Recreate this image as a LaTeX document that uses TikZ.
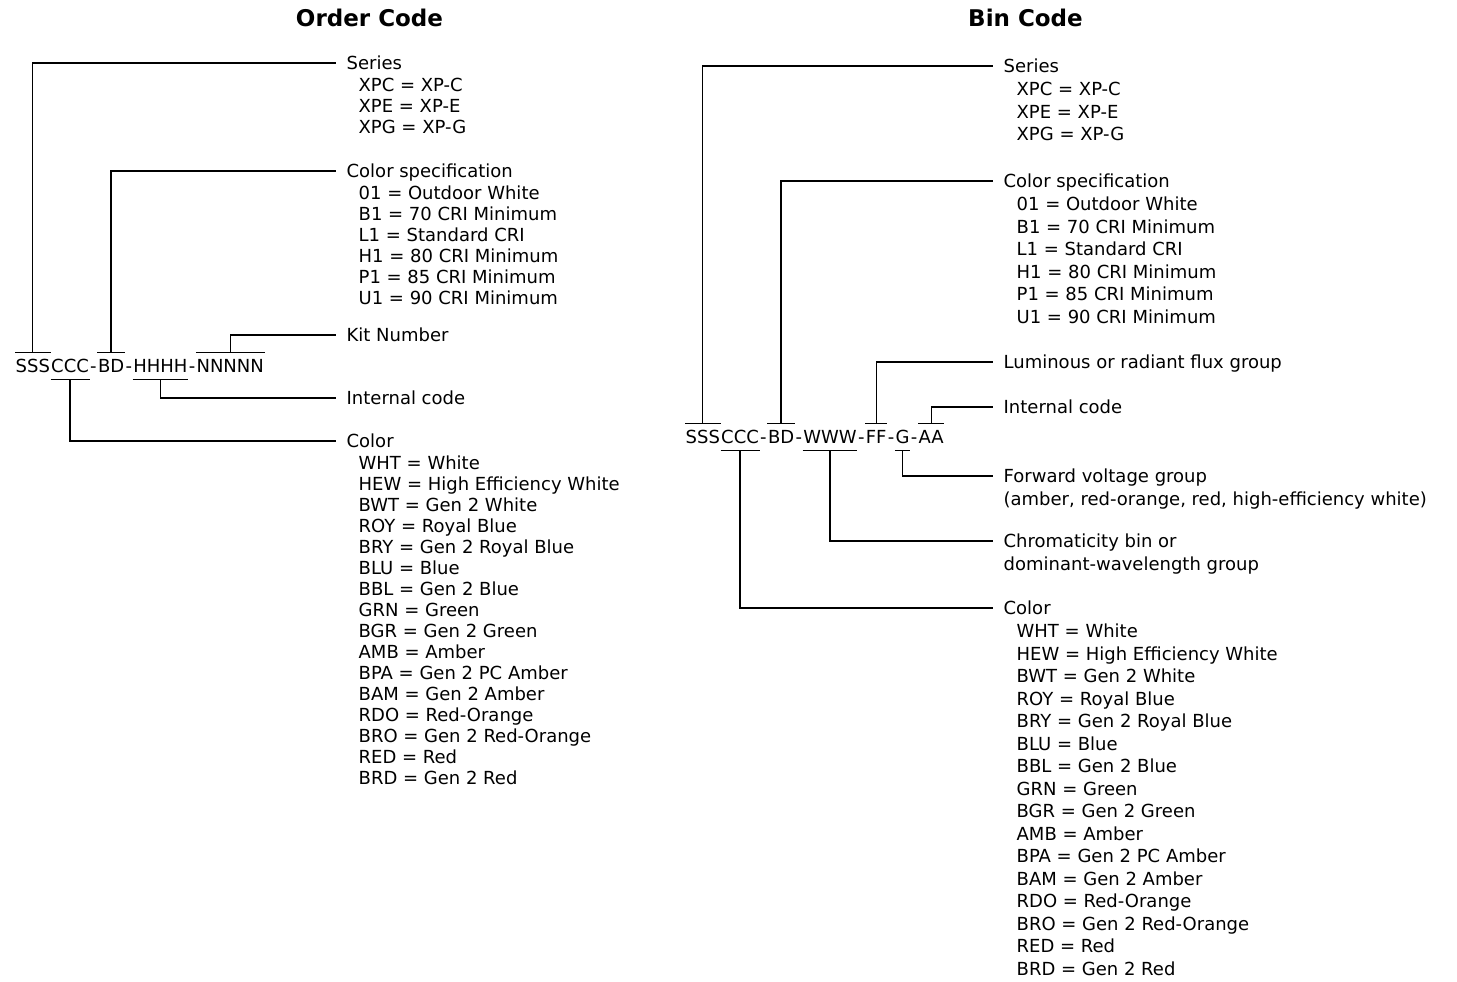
\documentclass[tikz,border=0pt]{standalone}
\usepackage{fontspec}
\setmainfont{DejaVu Sans}
\usetikzlibrary{positioning}
\tikzset{
  ttl/.style={font=\fontsize{23}{28}\selectfont\bfseries},
  seg/.style={inner xsep=0pt,inner ysep=6.2pt,text height=13pt,text depth=0pt,font=\fontsize{18}{21}\selectfont},
  lbl/.style={anchor=west,inner xsep=10pt,inner ysep=0pt,text height=13pt,text depth=0pt,font=\fontsize{18}{21}\selectfont},
  lstA/.style={anchor=north west,align=left,inner sep=0pt,font=\fontsize{18}{21}\selectfont},
  lstB/.style={anchor=north west,align=left,inner sep=0pt,font=\fontsize{18}{22.5}\selectfont},
}
\begin{document}
\begin{tikzpicture}[x=1pt,y=-1pt,line width=1.3pt,line cap=butt]
\useasboundingbox (0,0) rectangle (1457,982);

% ---------- Order Code ----------
\node[ttl] (oT) at (369.5,17.5) {Order Code};

\node[seg,anchor=west] (oS) at (15,366) {SSS};
\node[seg,right=0pt of oS] (oC) {CCC};
\node[seg,right=0pt of oC] (od1) {-};
\node[seg,right=0pt of od1] (oB) {BD};
\node[seg,right=0pt of oB] (od2) {-};
\node[seg,right=0pt of od2] (oH) {HHHH};
\node[seg,right=0pt of oH] (od3) {-};
\node[seg,right=0pt of od3] (oN) {NNNNN};

\node[lbl] (oSer) at (336,63) {Series};
\node[lstA] (oSerL) at ([xshift=22pt,yshift=-6.3pt]oSer.base west)
  {\strut XPC = XP-C\\XPE = XP-E\\XPG = XP-G};
\node[lbl] (oSpec) at (336,171) {Color specification};
\node[lstA] (oSpecL) at ([xshift=22pt,yshift=-6.3pt]oSpec.base west)
  {\strut 01 = Outdoor White\\B1 = 70 CRI Minimum\\L1 = Standard CRI\\H1 = 80 CRI Minimum\\P1 = 85 CRI Minimum\\U1 = 90 CRI Minimum};
\node[lbl] (oKit) at (336,335) {Kit Number};
\node[lbl] (oInt) at (336,398) {Internal code};
\node[lbl] (oCol) at (336,441) {Color};
\node[lstA] (oColL) at ([xshift=22pt,yshift=-6.3pt]oCol.base west)
  {\strut WHT = White\\HEW = High Efficiency White\\BWT = Gen 2 White\\ROY = Royal Blue\\BRY = Gen 2 Royal Blue\\BLU = Blue\\BBL = Gen 2 Blue\\GRN = Green\\BGR = Gen 2 Green\\AMB = Amber\\BPA = Gen 2 PC Amber\\BAM = Gen 2 Amber\\RDO = Red-Orange\\BRO = Gen 2 Red-Orange\\RED = Red\\BRD = Gen 2 Red};

\foreach \s in {oS,oB,oN} \draw (\s.north west) -- (\s.north east);
\foreach \s in {oC,oH} \draw (\s.south west) -- (\s.south east);
\draw (oS.north) |- (oSer.west);
\draw (oB.north) |- (oSpec.west);
\draw (oN.north) |- (oKit.west);
\draw (oH.south) |- (oInt.west);
\draw (oC.south) |- (oCol.west);

% ---------- Bin Code ----------
\node[ttl] (bT) at (1025.5,17.5) {Bin Code};

\node[seg,anchor=west] (bS) at (685,437) {SSS};
\node[seg,right=0pt of bS] (bC) {CCC};
\node[seg,right=0pt of bC] (bd1) {-};
\node[seg,right=0pt of bd1] (bB) {BD};
\node[seg,right=0pt of bB] (bd2) {-};
\node[seg,right=0pt of bd2] (bW) {WWW};
\node[seg,right=0pt of bW] (bd3) {-};
\node[seg,right=0pt of bd3] (bF) {FF};
\node[seg,right=0pt of bF] (bd4) {-};
\node[seg,right=0pt of bd4] (bG) {G};
\node[seg,right=0pt of bG] (bd5) {-};
\node[seg,right=0pt of bd5] (bA) {AA};

\node[lbl] (bSer) at (993,66) {Series};
\node[lstB] (bSerL) at ([xshift=23pt,yshift=-6.75pt]bSer.base west)
  {\strut XPC = XP-C\\XPE = XP-E\\XPG = XP-G};
\node[lbl] (bSpec) at (993,181) {Color specification};
\node[lstB] (bSpecL) at ([xshift=23pt,yshift=-6.75pt]bSpec.base west)
  {\strut 01 = Outdoor White\\B1 = 70 CRI Minimum\\L1 = Standard CRI\\H1 = 80 CRI Minimum\\P1 = 85 CRI Minimum\\U1 = 90 CRI Minimum};
\node[lbl] (bLum) at (993,362) {Luminous or radiant flux group};
\node[lbl] (bInt) at (993,407) {Internal code};
\node[lbl] (bVf) at (993,476) {Forward voltage group};
\node[lstB] (bVfL) at ([xshift=10pt,yshift=-6.75pt]bVf.base west)
  {\strut (amber, red-orange, red, high-efficiency white)};
\node[lbl] (bChr) at (993,541) {Chromaticity bin or};
\node[lstB] (bChrL) at ([xshift=10pt,yshift=-6.75pt]bChr.base west)
  {\strut dominant-wavelength group};
\node[lbl] (bCol) at (993,608) {Color};
\node[lstB] (bColL) at ([xshift=23pt,yshift=-6.75pt]bCol.base west)
  {\strut WHT = White\\HEW = High Efficiency White\\BWT = Gen 2 White\\ROY = Royal Blue\\BRY = Gen 2 Royal Blue\\BLU = Blue\\BBL = Gen 2 Blue\\GRN = Green\\BGR = Gen 2 Green\\AMB = Amber\\BPA = Gen 2 PC Amber\\BAM = Gen 2 Amber\\RDO = Red-Orange\\BRO = Gen 2 Red-Orange\\RED = Red\\BRD = Gen 2 Red};

\foreach \s in {bS,bB,bF,bA} \draw (\s.north west) -- (\s.north east);
\foreach \s in {bC,bW,bG} \draw (\s.south west) -- (\s.south east);
\draw (bS.north) |- (bSer.west);
\draw (bB.north) |- (bSpec.west);
\draw (bF.north) |- (bLum.west);
\draw (bA.north) |- (bInt.west);
\draw (bG.south) |- (bVf.west);
\draw (bW.south) |- (bChr.west);
\draw (bC.south) |- (bCol.west);
\end{tikzpicture}
\end{document}
